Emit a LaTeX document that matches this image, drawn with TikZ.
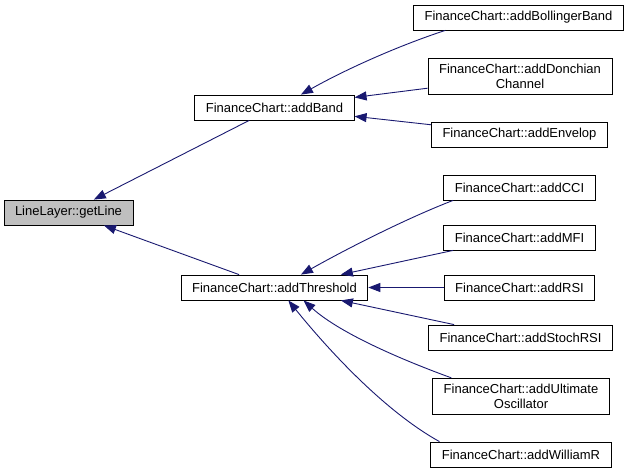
\documentclass[tikz,border=0pt]{standalone}
\usepackage{fontspec}
\setmainfont{Liberation Sans}
\usetikzlibrary{arrows.meta}
\definecolor{callblue}{HTML}{191970}
\definecolor{curgray}{HTML}{BFBFBF}

\begin{document}
\begin{tikzpicture}[
    x=1pt, y=-1pt,
    fn/.style={
        draw,
        fill=white,
        font=\fontsize{13}{15}\selectfont,
        align=center,
        minimum height=25pt,  % single line boxes
        inner xsep=11pt,
        inner ysep=6pt,
        line width=0.8pt
    },
    call/.style={
        callblue,
        line width=0.9pt,
        -{Triangle[length=12pt,width=9pt]}
    }
]
\useasboundingbox (0,0) rectangle (631,475);

% functions
\node[fn, fill=curgray] (getline) at (68.5,212.5) {LineLayer::getLine};
\node[fn] (addband) at (274.5,107.5) {FinanceChart::addBand};
\node[fn] (addthreshold) at (274.5,287.5) {FinanceChart::addThreshold};

\node[fn] (bollinger) at (518.5,17.5) {FinanceChart::addBollingerBand};
\node[fn] (donchian) at (520,76.5) {FinanceChart::addDonchian\\Channel};
\node[fn] (envelop) at (519.5,134.5) {FinanceChart::addEnvelop};

\node[fn] (cci) at (519.5,187.5) {FinanceChart::addCCI};
\node[fn] (mfi) at (519.5,237.5) {FinanceChart::addMFI};
\node[fn] (rsi) at (519.5,287.5) {FinanceChart::addRSI};
\node[fn] (stochrsi) at (520.5,337.5) {FinanceChart::addStochRSI};
\node[fn] (ultimate) at (521,396.5) {FinanceChart::addUltimate\\Oscillator};
\node[fn] (williamr) at (521,454.5) {FinanceChart::addWilliamR};

% callers
\draw[call] (addband) -- (getline);
\draw[call] (addthreshold) -- (getline);

\draw[call] (bollinger.190) .. controls +(-47.6,15.5) and +(43.5,-24.6) .. (addband.26);
\draw[call] (donchian) -- (addband);
\draw[call] (envelop) -- (addband);

\draw[call] (cci.191) .. controls +(-46.7,17.9) and +(43.5,-24.6) .. (addthreshold.26);
\draw[call] (mfi.191) -- (addthreshold.11);
\draw[call] (rsi) -- (addthreshold);
\draw[call] (stochrsi.169) -- (addthreshold.349);
\draw[call] (ultimate.165) .. controls +(-47,-17.1) and +(37.2,33.5) .. (addthreshold.336);
\draw[call] (williamr.171) .. controls +(-55.1,-30.5) and +(39.6,49) .. (addthreshold.317);
\end{tikzpicture}
\end{document}
